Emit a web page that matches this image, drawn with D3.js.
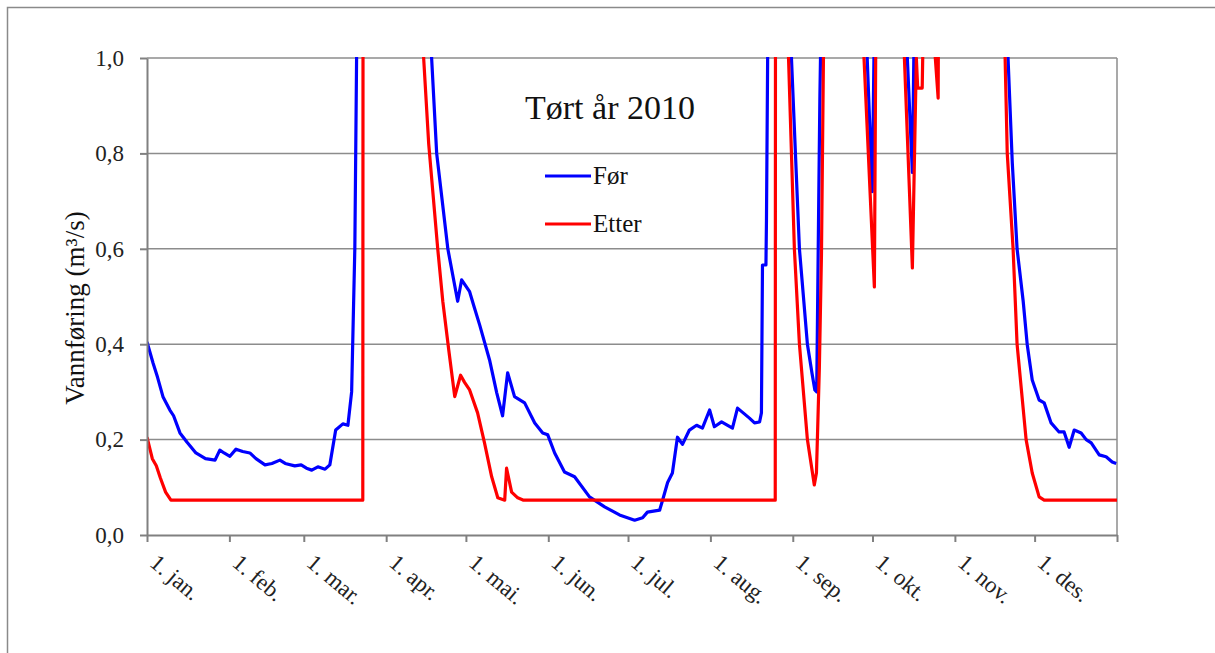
<!DOCTYPE html>
<html>
<head>
<meta charset="utf-8">
<script src="https://cdn.jsdelivr.net/npm/d3@7"></script>
<style>
  body { margin: 0; background: #fff; }
  svg { display: block; font-family: "Liberation Serif", "Times New Roman", serif; }
  .axis path, .axis line { stroke: #808080; stroke-width: 2; }
  .axis text { fill: #222; }
</style>
</head>
<body>
<svg width="1215" height="653"></svg>
<script>
// day of year (0 = 1. jan 2010) and flow in m3/s.
// values of 1.2 mean "off the top of the chart"
var foer = [
  [0,0.405],[2.3,0.36],[4,0.33],[6,0.29],[8.6,0.262],[10,0.25],[12.4,0.214],[15,0.195],
  [18.4,0.172],[22,0.16],[25.6,0.157],[27.4,0.178],[29,0.172],[31.2,0.165],[33.5,0.18],
  [36,0.175],[38.7,0.172],[41,0.16],[44.4,0.147],[47,0.15],[50,0.157],[52,0.15],
  [55.6,0.145],[58,0.147],[60,0.14],[62,0.136],[64.3,0.143],[67,0.138],[68.8,0.147],
  [71,0.22],[73.7,0.233],[75.6,0.23],[77,0.30],[78.2,0.6],[79.2,1.2],
  [106.3,1.2],[107.1,1.0],[109,0.8],[113.2,0.6],[116.9,0.49],[118.4,0.535],[121.4,0.51],
  [123,0.48],[125.2,0.44],[128.9,0.367],[131.6,0.298],[133.8,0.25],[135.7,0.34],[138.3,0.29],
  [142.1,0.277],[145.9,0.235],[148.9,0.214],[150.8,0.21],[153.4,0.172],[157.1,0.132],
  [160.9,0.122],[166.5,0.08],[172.2,0.059],[177.8,0.042],[183.5,0.031],[186.5,0.036],
  [188.3,0.048],[192.9,0.052],[194,0.073],[195.9,0.11],[197.7,0.13],[199.6,0.205],
  [201.5,0.19],[204.1,0.22],[206.8,0.23],[209,0.224],[211.7,0.262],[213.5,0.227],
  [216.2,0.237],[220.3,0.224],[222.2,0.266],[226.7,0.245],[228.6,0.235],[230.5,0.237],
  [231.2,0.256],[231.6,0.566],[232.9,0.566],[233.1,0.66],[233.8,1.2],
  [241.8,1.2],[242.5,1.0],[245.5,0.6],[248.5,0.4],[250.2,0.34],[251.3,0.304],[252,0.30],
  [252.8,0.72],[253.2,0.92],[254,1.2],
  [270.6,1.2],[271,1.0],[272.9,0.72],[274,1.2],
  [285.7,1.2],[286.1,1.0],[288,0.76],[289,1.2],
  [323.6,1.2],[324,1.0],[325.6,0.78],[327.4,0.6],[329.7,0.49],[331.2,0.4],[333.1,0.325],
  [335.7,0.283],[337.6,0.277],[340.2,0.235],[343.2,0.216],[345.1,0.216],[347,0.184],
  [348.9,0.22],[351.5,0.214],[353.4,0.2],[355.3,0.193],[358.3,0.168],[360.9,0.164],
  [363.2,0.153],[364.7,0.15]
];

var etter = [
  [0,0.205],[2,0.16],[3.5,0.145],[5,0.12],[7,0.09],[9,0.073],[81.2,0.073],[81.3,1.2],
  [103.5,1.2],[104.1,1.0],[106,0.82],[109.4,0.6],[111.3,0.49],[113.5,0.39],[115.8,0.29],
  [118,0.335],[119.5,0.32],[121.4,0.304],[124.4,0.256],[127,0.193],[129.7,0.122],
  [132,0.078],[134.6,0.073],[135.3,0.14],[137.2,0.09],[139.5,0.078],[141.7,0.073],
  [236.4,0.073],[236.5,1.2],
  [240.8,1.2],[241.4,1.0],[243.6,0.6],[245.5,0.4],[248.5,0.2],[251.1,0.105],[251.9,0.13],
  [253,0.35],[253.8,0.59],[254.9,1.2],
  [269.3,1.2],[269.8,1.0],[273.7,0.52],[274.4,1.2],
  [284.5,1.2],[285,1.0],[288,0.56],[289.5,1.0],[290,0.937],[291.7,0.937],[292.5,1.2],
  [296,1.05],[297.7,0.916],[297.9,1.2],
  [322.6,1.2],[322.9,1.0],[323.7,0.8],[325.9,0.6],[327.4,0.4],[330.8,0.2],[333.1,0.13],
  [335.7,0.08],[337.6,0.073],[365,0.073]
];

var monthLabels = ["1. jan.", "1. feb.", "1. mar.", "1. apr.", "1. mai.", "1. jun.",
                   "1. jul.", "1. aug.", "1. sep.", "1. okt.", "1. nov.", "1. des."];
var yTicks = [0, 0.2, 0.4, 0.6, 0.8, 1.0];

var plotLeft = 147, plotRight = 1117, plotTop = 58, plotBottom = 535;
var start = Date.UTC(2010, 0, 1), end = Date.UTC(2011, 0, 1);

function dayToDate(d) { return new Date(start + d * 864e5); }

var svg = d3.select("svg");

// outer frame
svg.append("rect")
  .attr("x", 7.5).attr("y", 7.5)
  .attr("width", 1400).attr("height", 800)
  .attr("fill", "none").attr("stroke", "#8a8a8a").attr("stroke-width", 1.5);

var x = d3.scaleUtc().domain([new Date(start), new Date(end)]).range([plotLeft, plotRight]);
var y = d3.scaleLinear().domain([0, 1]).range([plotBottom, plotTop]);

// gridlines
svg.append("g")
  .selectAll("line")
  .data(yTicks.slice(1))
  .enter()
  .append("line")
    .attr("x1", plotLeft).attr("x2", plotRight)
    .attr("y1", d => y(d)).attr("y2", d => y(d))
    .attr("stroke", "#8c8c8c").attr("stroke-width", 1.5);

// right plot border
svg.append("line")
  .attr("x1", plotRight).attr("x2", plotRight).attr("y1", plotTop).attr("y2", plotBottom)
  .attr("stroke", "#8c8c8c").attr("stroke-width", 1.5);

svg.append("clipPath").attr("id", "plot")
  .append("rect").attr("x", plotLeft).attr("y", plotTop - 1)
  .attr("width", plotRight - plotLeft).attr("height", plotBottom - plotTop + 1);

var line = d3.line()
  .x(d => x(dayToDate(d[0])))
  .y(d => y(d[1]));

svg.append("path")
  .datum(foer)
  .attr("clip-path", "url(#plot)")
  .attr("d", line)
  .attr("fill", "none").attr("stroke", "#0000ff").attr("stroke-width", 3.2)
  .attr("stroke-linejoin", "round");

svg.append("path")
  .datum(etter)
  .attr("clip-path", "url(#plot)")
  .attr("d", line)
  .attr("fill", "none").attr("stroke", "#ff0000").attr("stroke-width", 3.2)
  .attr("stroke-linejoin", "round");

// y axis
var yAxis = svg.append("g")
  .attr("class", "axis")
  .attr("transform", `translate(${plotLeft},0)`)
  .call(d3.axisLeft(y)
          .tickValues(yTicks)
          .tickSize(7)
          .tickSizeOuter(0)
          .tickPadding(16)
          .tickFormat(d => d3.format(".1f")(d).replace(".", ",")));
yAxis.selectAll("text").style("font-size", "23px").style("font-family", "Liberation Serif, serif");

// x axis
var monthTicks = d3.utcMonths(new Date(start), new Date(end)).concat([new Date(end)]);
var xAxis = svg.append("g")
  .attr("class", "axis")
  .attr("transform", `translate(0,${plotBottom})`)
  .call(d3.axisBottom(x)
          .tickValues(monthTicks)
          .tickSize(7)
          .tickSizeOuter(0)
          .tickFormat(d => d.getUTCFullYear() == 2010 ? monthLabels[d.getUTCMonth()] : ""));
xAxis.selectAll("text")
  .style("font-size", "23px")
  .style("font-family", "Liberation Serif, serif")
  .attr("text-anchor", "start")
  .attr("y", 0).attr("dy", "0")
  .attr("transform", "translate(1,30) rotate(40)");

// titles
svg.append("text")
  .attr("x", 610).attr("y", 119)
  .attr("text-anchor", "middle")
  .style("font-size", "34px")
  .attr("fill", "#111")
  .text("Tørt år 2010");

svg.append("text")
  .attr("transform", "translate(84,308) rotate(-90)")
  .attr("text-anchor", "middle")
  .style("font-size", "27px")
  .attr("fill", "#111")
  .text("Vannføring  (m³/s)");

// legend
var legend = [
  { name: "Før", color: "#0000ff", y: 176 },
  { name: "Etter", color: "#ff0000", y: 224 }
];
var lg = svg.append("g").selectAll("g").data(legend).enter().append("g");
lg.append("line")
  .attr("x1", 545).attr("x2", 591)
  .attr("y1", d => d.y).attr("y2", d => d.y)
  .attr("stroke", d => d.color).attr("stroke-width", 3.2);
lg.append("text")
  .attr("x", 593).attr("y", d => d.y + 8)
  .style("font-size", "25px")
  .attr("fill", "#111")
  .text(d => d.name);
</script>
</body>
</html>
